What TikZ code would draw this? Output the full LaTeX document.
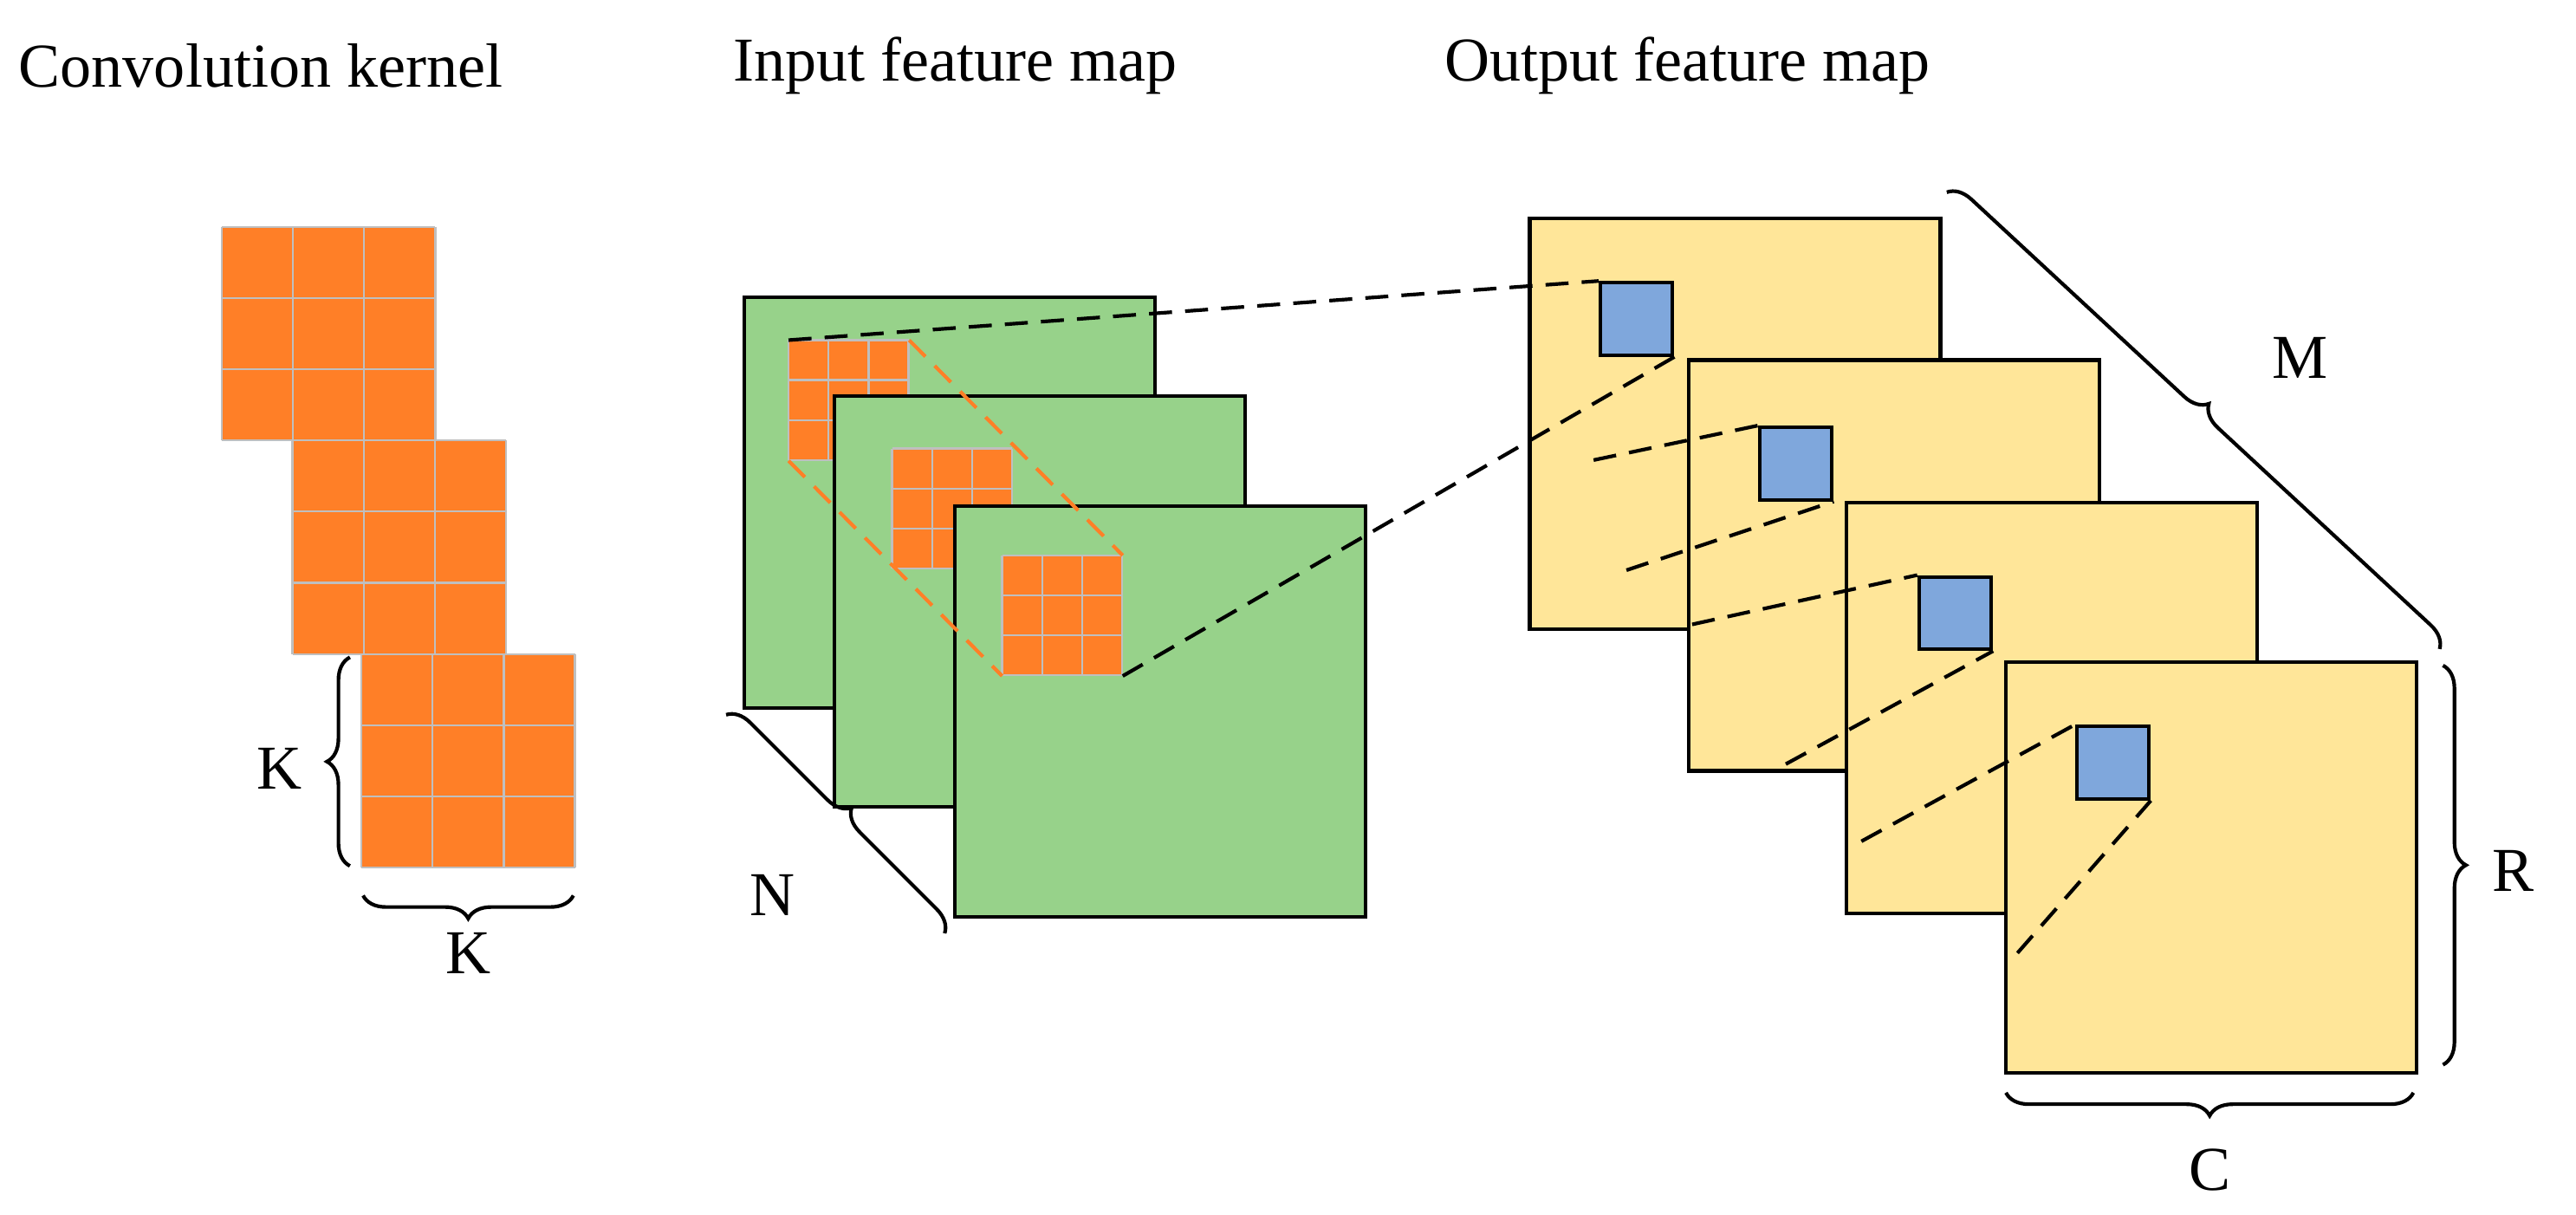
\documentclass[tikz,border=0pt]{standalone}
\usepackage{fontspec}
\setmainfont{Liberation Serif}
\usetikzlibrary{decorations.pathreplacing}
\definecolor{kor}{HTML}{FF7F27}
\definecolor{fgreen}{HTML}{97D28A}
\definecolor{fyel}{HTML}{FFE699}
\definecolor{fblue}{HTML}{7FA7DC}
\newcommand\kgrid[4]{% name, x, y, size
  \node[fill=kor,draw=none,minimum size=#4pt,inner sep=0,anchor=north west] (#1) at (#2,#3) {};
  \foreach \i in {0,1,2,3}{
    \draw[black!25,line width=1.2pt] (#2+\i*#4/3,#3) -- (#2+\i*#4/3,#3+#4);
    \draw[black!25,line width=1.2pt] (#2,#3+\i*#4/3) -- (#2+#4,#3+\i*#4/3);}
}
\tikzset{
  fmap/.style={draw=black,line width=2.2pt,minimum size=250pt,inner sep=0,anchor=north west},
  bsq/.style={draw=black,line width=2.2pt,fill=fblue,minimum size=44pt,inner sep=0,anchor=north west},
  br/.style={decorate,decoration={brace,amplitude=14pt},line width=2.2pt},
  lab/.style={font=\fontsize{38}{40}\selectfont},
  dl/.style={dashed,dash pattern=on 14pt off 8pt,line width=2.2pt},
}
\begin{document}
\begin{tikzpicture}[x=1pt,y=-1pt]
\useasboundingbox (0,0) rectangle (1568,739);
\node[lab,anchor=west] (t1) at (8,40) {Convolution kernel};
\node[lab,anchor=west] (t2) at (443,40) {Input feature map};
\node[lab,anchor=west] (t3) at (876,40) {Output feature map};
% kernels
\kgrid{k1}{135}{138}{130}
\kgrid{k2}{178}{268}{130}
\kgrid{k3}{220}{398}{130}
\draw[br] (213,527) -- (213,400);
\node[lab] (kl) at (170,468) {K};
\draw[br] (349,545) -- (221,545);
\node[lab] (kb) at (285,580) {K};
% input maps
\node[fmap,fill=fgreen] (g1) at (452,180) {};
\kgrid{s1}{480}{207}{73}
\node[fmap,fill=fgreen] (g2) at (507,240) {};
\kgrid{s2}{543}{273}{73}
\node[fmap,fill=fgreen] (g3) at (580,307) {};
\kgrid{s3}{610}{338}{73}
\draw[dl,kor] (s1.north east) -- (s3.north east);
\draw[dl,kor] (s1.south west) -- (s3.south west);
\draw[br] (442,435) -- (575,568);
\node[lab] (nl) at (470,545) {N};
% output maps
\node[fmap,fill=fyel] (y1) at (930,132) {};
\node[fmap,fill=fyel] (y2) at (1027,218) {};
\node[fmap,fill=fyel] (y3) at (1123,305) {};
\node[fmap,fill=fyel] (y4) at (1220,402) {};
\coordinate (a2) at (970,280); \coordinate (b2) at (990,347);
\coordinate (a3) at (1030,380); \coordinate (b3) at (1087,465);
\coordinate (a4) at (1133,512); \coordinate (b4) at (1228,580);
\node[bsq] (q1) at (973,171) {};
\node[bsq] (q2) at (1070,259) {};
\node[bsq] (q3) at (1167,350) {};
\node[bsq] (q4) at (1263,441) {};
\draw[dl] (s1.north west) -- (q1.north west);
\draw[dl] (s3.south east) -- (q1.south east);
\draw[dl] (a2) -- (q2.north west);
\draw[dl] (b2) -- (q2.south east);
\draw[dl] (a3) -- (q3.north west);
\draw[dl] (b3) -- (q3.south east);
\draw[dl] (a4) -- (q4.north west);
\draw[dl] (b4) -- (q4.south east);
\node[bsq] at (973,171) {};
\node[bsq] at (1070,259) {};
\node[bsq] at (1167,350) {};
\node[bsq] at (1263,441) {};
\draw[br] (1185,117) -- (1485,395);
\node[lab] (ml) at (1400,218) {M};
\draw[br] (1487,405) -- (1487,648);
\node[lab] (rl) at (1530,530) {R};
\draw[br] (1469,665) -- (1221,665);
\node[lab] (cl) at (1345,712) {C};
\end{tikzpicture}
\end{document}
